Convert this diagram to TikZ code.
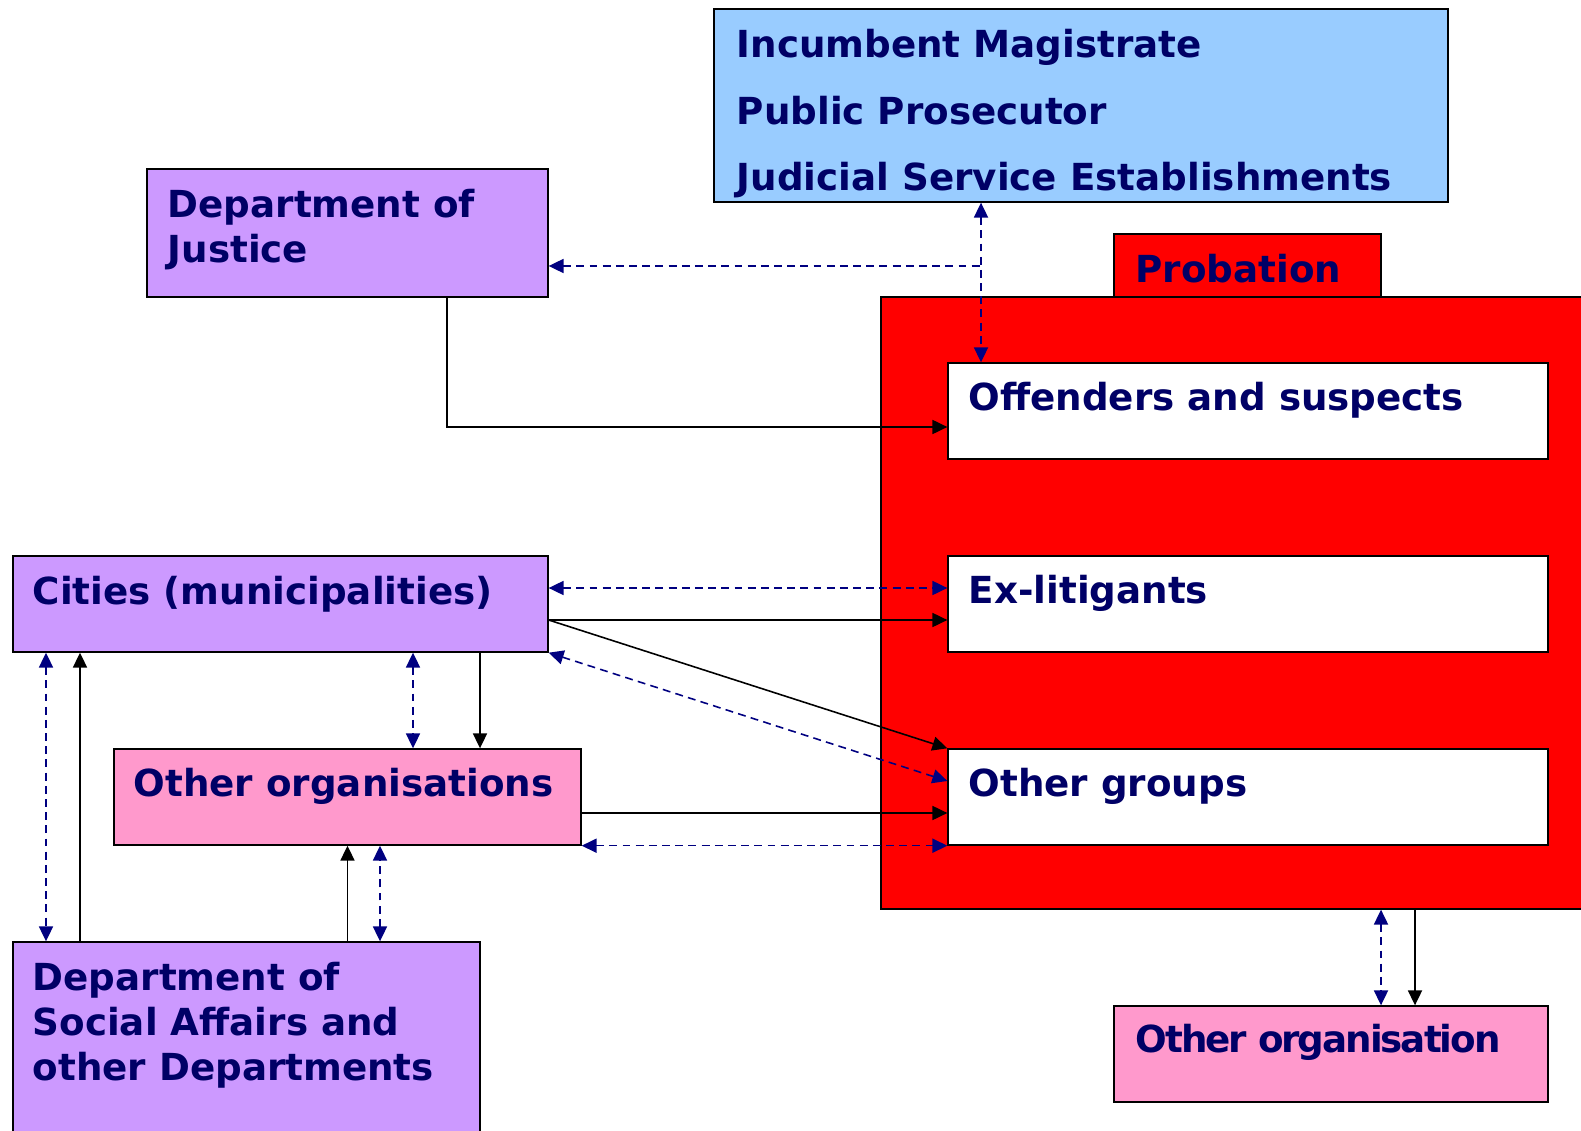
\documentclass[tikz,border=0pt]{standalone}
\usepackage{fontspec}
\setmainfont{DejaVu Sans}
\usetikzlibrary{arrows.meta,calc}
\definecolor{txtblue}{RGB}{0,0,102}
\definecolor{dashblue}{RGB}{0,0,128}
\definecolor{skyblue}{RGB}{153,204,255}
\definecolor{lilac}{RGB}{204,153,255}
\definecolor{pinkbox}{RGB}{255,153,204}
\tikzset{
	box/.style={rectangle, draw=black, line width=0.8pt, inner sep=0pt},
	lbl/.style={text=txtblue, font=\bfseries\fontsize{21.2}{25.5}\selectfont, inner sep=0pt, align=left, anchor=base west},
	link/.style={draw=black, line width=0.9pt, ->},
	duo/.style={draw=dashblue, line width=0.9pt, dash pattern=on 4.5pt off 3pt, <->},
}

\begin{document}
\begin{tikzpicture}[x=0.02cm, y=-0.02cm, >={Triangle[length=8.5pt,width=8pt]}]
	%%%%% START %%%%%
	\useasboundingbox (0,0) rectangle (1581,1131);
	
	% probation block
	\node[box, fill=red, minimum width=14.18cm, minimum height=12.24cm] (probation) at (1235.5,603) {};
	\node[box, fill=red, minimum width=5.34cm, minimum height=1.26cm] (tab) at (1247.5,265.5) {};
	\node[lbl] (tab-t) at ($(tab.north west)+(22,49)$) {Probation};
	
	\node[box, fill=white, minimum width=12cm, minimum height=1.92cm] (offenders) at (1248,411) {};
	\node[lbl] (offenders-t) at ($(offenders.north west)+(21,48)$) {Offenders and suspects};
	\node[box, fill=white, minimum width=12cm, minimum height=1.92cm] (exlit) at (1248,604) {};
	\node[lbl] (exlit-t) at ($(exlit.north west)+(21,48)$) {Ex-litigants};
	\node[box, fill=white, minimum width=12cm, minimum height=1.92cm] (groups) at (1248,797) {};
	\node[lbl] (groups-t) at ($(groups.north west)+(21,48)$) {Other groups};
	
	% judiciary and departments (base = last line)
	\node[box, fill=skyblue, minimum width=14.68cm, minimum height=3.86cm] (judicial) at (1081,105.5) {};
	\node[lbl] (judicial-t) at ($(judicial.north west)+(23,182)$) {Incumbent Magistrate\\[12.2pt]Public Prosecutor\\[12.2pt]Judicial Service Establishments};
	
	\node[box, fill=lilac, minimum width=8.02cm, minimum height=2.56cm] (justice) at (347.5,233) {};
	\node[lbl] (justice-t) at ($(justice.north west)+(21,94)$) {Department of\\Justice};
	
	\node[box, fill=lilac, minimum width=10.7cm, minimum height=1.92cm] (cities) at (280.5,604) {};
	\node[lbl] (cities-t) at ($(cities.north west)+(20,49)$) {Cities (municipalities)};
	
	\node[box, fill=pinkbox, minimum width=9.34cm, minimum height=1.92cm] (orgs) at (347.5,797) {};
	\node[lbl] (orgs-t) at ($(orgs.north west)+(20,48)$) {Other organisations};
	
	\node[box, fill=lilac, minimum width=9.34cm, minimum height=3.96cm] (social) at (246.5,1041) {};
	\node[lbl] (social-t) at ($(social.north west)+(20,139)$) {Department of\\Social Affairs and\\other Departments};
	
	\node[box, fill=pinkbox, minimum width=8.68cm, minimum height=1.92cm] (otherorg) at (1331,1054) {};
	\node[lbl] (otherorg-t) at ($(otherorg.north west)+(22,47)$) {\addfontfeature{LetterSpace=-5.5}Other organisation};
	
	% tap points
	\coordinate (jx) at (981,266);
	\coordinate (jd) at (447,427);
	\coordinate (r1) at (0,588);
	\coordinate (r2) at (0,620);
	\coordinate (r3) at (0,813);
	\coordinate (ca) at (46,0);
	\coordinate (cb) at (80,0);
	\coordinate (cc) at (347.5,0);
	\coordinate (cd) at (380,0);
	\coordinate (ce) at (413,0);
	\coordinate (cf) at (480,0);
	\coordinate (cg) at (1381,0);
	\coordinate (ch) at (1415,0);
	
	% connectors
	\draw[duo] (judicial.south -| jx) -- (offenders.north -| jx);
	\draw[duo, <-] (justice.east |- jx) -- (jx);
	\draw[link] (justice.south -| jd) |- (offenders.west |- jd);
	
	\draw[duo] (cities.east |- r1) -- (exlit.west |- r1);
	\draw[link] (cities.east |- r2) -- (exlit.west |- r2);
	\draw[link] (cities.east |- r2) -- (groups.north west);
	\draw[duo] (cities.south east) -- ($(groups.west)+(0,-16)$);
	\draw[link] (orgs.east |- r3) -- (groups.west |- r3);
	\draw[duo] (orgs.south east) -- (groups.south west);
	
	\draw[duo] (cities.south -| ce) -- (orgs.north -| ce);
	\draw[link] (cities.south -| cf) -- (orgs.north -| cf);
	\draw[duo] (cities.south -| ca) -- (social.north -| ca);
	\draw[link] (social.north -| cb) -- (cities.south -| cb);
	\draw[link] (social.north -| cc) -- (orgs.south -| cc);
	\draw[duo] (social.north -| cd) -- (orgs.south -| cd);
	
	\draw[duo] (probation.south -| cg) -- (otherorg.north -| cg);
	\draw[link] (probation.south -| ch) -- (otherorg.north -| ch);
	%%%%% END %%%%%
\end{tikzpicture}
\end{document}
